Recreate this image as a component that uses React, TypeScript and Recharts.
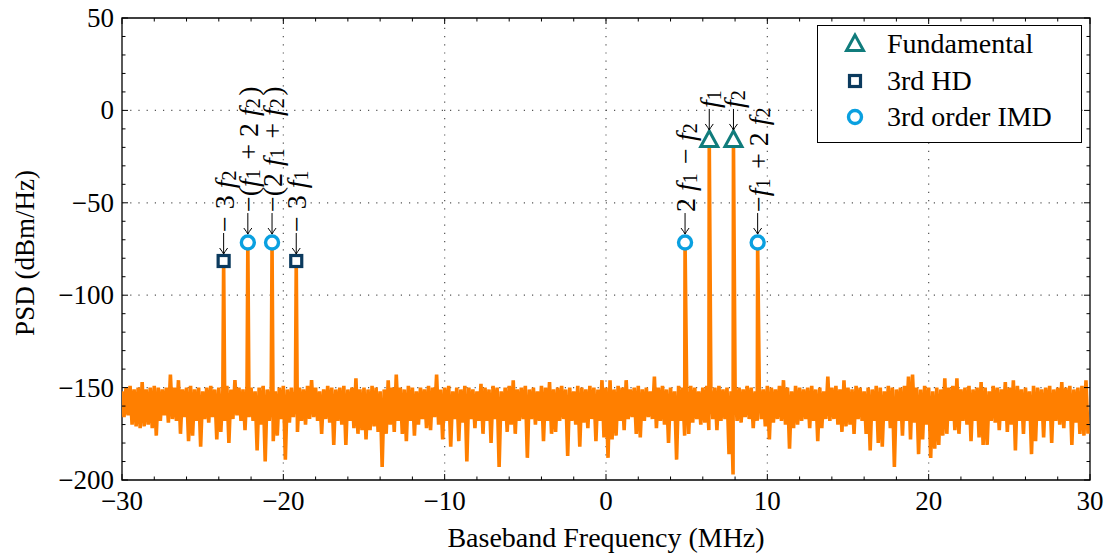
import {
  ComposedChart,
  Line,
  Scatter,
  XAxis,
  YAxis,
  ReferenceLine,
  ReferenceArea,
  Legend,
} from "recharts";

const FONT = '"Times New Roman", serif';
const ORANGE = "#ff7f00";
const TEAL = "#107c7c";
const NAVY = "#0b3a5e";
const SKY = "#0aa0e0";

// noise floor, one top/bottom pair every 0.25 MHz from -30 MHz
const freqStart = -30;
const freqStep = 0.25;

const noiseTop = [
  -152, -150, -149, -151, -150, -147, -151, -150, -149, -150,
  -151, -150, -143, -150, -146, -151, -150, -149, -151, -150,
  -152, -150, -149, -151, -150, -152, -149, -151, -146, -150,
  -151, -149, -150, -152, -150, -149, -151, -150, -152, -150,
  -149, -151, -150, -152, -150, -151, -149, -146, -150, -152,
  -151, -149, -150, -151, -150, -149, -151, -150, -145, -151,
  -150, -151, -149, -150, -152, -151, -146, -150, -143, -150,
  -151, -149, -150, -152, -150, -151, -149, -150, -143, -151,
  -150, -149, -152, -150, -151, -149, -150, -151, -152, -148,
  -150, -151, -149, -150, -152, -150, -149, -146, -151, -150,
  -149, -151, -150, -152, -149, -150, -147, -151, -150, -149,
  -151, -150, -152, -149, -150, -151, -149, -150, -151, -146,
  -150, -146, -151, -149, -150, -146, -151, -150, -149, -151,
  -150, -152, -144, -150, -149, -151, -150, -152, -149, -150,
  -151, -149, -150, -152, -150, -149, -151, -150, -149, -151,
  -150, -152, -149, -150, -151, -149, -150, -152, -150, -151,
  -149, -150, -151, -149, -146, -150, -152, -149, -150, -151,
  -150, -149, -151, -150, -152, -144, -150, -149, -151, -146,
  -150, -151, -149, -150, -152, -150, -151, -149, -150, -152,
  -149, -150, -151, -150, -149, -144, -143, -150, -151, -149,
  -150, -152, -150, -151, -145, -150, -149, -145, -151, -150,
  -149, -151, -150, -147, -150, -152, -149, -150, -151, -147,
  -150, -146, -149, -151, -150, -152, -149, -150, -151, -150,
  -149, -151, -150, -147, -150, -149, -151, -150, -149, -146,
];

const noiseBottom = [
  -166, -165, -170, -171, -172, -171, -170, -172, -176, -168,
  -165, -169, -167, -168, -175, -166, -179, -176, -168, -182,
  -167, -169, -166, -178, -174, -168, -180, -167, -165, -168,
  -173, -166, -168, -184, -170, -190, -168, -179, -176, -167,
  -189, -169, -166, -174, -168, -170, -167, -166, -168, -175,
  -167, -169, -181, -168, -170, -181, -168, -172, -175, -173,
  -178, -173, -171, -174, -193, -175, -170, -174, -168, -175,
  -179, -168, -176, -170, -167, -172, -173, -166, -170, -178,
  -168, -182, -167, -179, -169, -190, -167, -172, -168, -175,
  -168, -180, -167, -193, -168, -174, -170, -175, -168, -167,
  -188, -167, -170, -168, -179, -168, -175, -174, -168, -167,
  -187, -168, -170, -182, -169, -172, -167, -179, -168, -177,
  -188, -178, -176, -168, -173, -167, -166, -175, -177, -168,
  -166, -167, -172, -168, -170, -180, -168, -189, -168, -176,
  -175, -169, -167, -170, -169, -173, -167, -173, -168, -167,
  -186, -197, -168, -169, -166, -167, -172, -168, -167, -171,
  -178, -169, -167, -168, -170, -183, -172, -170, -168, -167,
  -172, -168, -179, -172, -167, -168, -167, -170, -174, -171,
  -170, -175, -167, -168, -175, -184, -168, -180, -182, -168,
  -172, -193, -168, -176, -168, -178, -169, -186, -178, -170,
  -188, -183, -181, -176, -175, -168, -173, -175, -168, -170,
  -179, -168, -177, -181, -181, -168, -169, -173, -168, -174,
  -170, -184, -168, -175, -168, -186, -179, -168, -177, -168,
  -180, -168, -170, -172, -168, -181, -169, -175, -176, -175,
];

// tones
const fundFreqs = [6.4, 7.9];
const fundPsd = [-16, -16];
const fundLabels = ["f_1", "f_2"];

const hdFreqs = [-23.7, -19.2];
const hdPsd = [-81.5, -81.5];
const hdLabels = ["− 3 f_2", "− 3 f_1"];

const imdFreqs = [-22.2, -20.7, 4.9, 9.4];
const imdPsd = [-71.5, -71.5, -71.5, -71.5];
const imdLabels = ["−(f_1 + 2 f_2)", "−(2 f_1 + f_2)", "2 f_1 − f_2", "−f_1 + 2 f_2"];

const legendNames = ["Fundamental", "3rd HD", "3rd order IMD"];
const legendKinds = ["tri", "sq", "circ"];

const xTicks = [
  -30, -28, -26, -24, -22, -20, -18, -16, -14, -12, -10, -8, -6, -4, -2, 0,
  2, 4, 6, 8, 10, 12, 14, 16, 18, 20, 22, 24, 26, 28, 30,
];
const yTicks = [
  -200, -190, -180, -170, -160, -150, -140, -130, -120, -110, -100, -90, -80,
  -70, -60, -50, -40, -30, -20, -10, 0, 10, 20, 30, 40, 50,
];
const xGrid = [-20, -10, 0, 10, 20];
const yGrid = [0, -50, -100, -150];

const PLOT_W = 968;
const PLOT_H = 462;
const ARROW = 21;

const toneRows = [
  ...fundFreqs.map((f, i) => ({ f, psd: fundPsd[i] })),
  ...hdFreqs.map((f, i) => ({ f, psd: hdPsd[i] })),
  ...imdFreqs.map((f, i) => ({ f, psd: imdPsd[i] })),
];

const spectrum = [
  ...noiseTop.flatMap((t, i) => [
    { f: freqStart + i * freqStep, psd: t },
    { f: freqStart + i * freqStep + freqStep / 2, psd: noiseBottom[i] },
  ]),
  ...toneRows,
].sort((a, b) => a.f - b.f);

const fundData = fundFreqs.map((f, i) => ({ f, psd: fundPsd[i], label: fundLabels[i] }));
const hdData = hdFreqs.map((f, i) => ({ f, psd: hdPsd[i], label: hdLabels[i] }));
const imdData = imdFreqs.map((f, i) => ({ f, psd: imdPsd[i], label: imdLabels[i] }));

const fmt = (v: number) => (v < 0 ? `\u2212${Math.abs(v)}` : `${v}`);

function MathText({ text }: { text: string }) {
  const parts = text.split(/(f_\d)/).filter((p) => p !== "");
  return (
    <>
      {parts.map((p, i) =>
        p.startsWith("f_") ? (
          <tspan key={i}>
            <tspan fontStyle="italic">f</tspan>
            <tspan fontSize={20} dy={5}>{p.slice(2)}</tspan>
            <tspan dy={-5}>{"\u200a"}</tspan>
          </tspan>
        ) : (
          <tspan key={i}>{p}</tspan>
        )
      )}
    </>
  );
}

function Glyph({ kind, cx, cy }: { kind: string; cx: number; cy: number }) {
  if (kind === "tri") {
    return (
      <polygon
        points={`${cx},${cy - 9} ${cx - 8.5},${cy + 6.5} ${cx + 8.5},${cy + 6.5}`}
        fill="#fff"
        stroke={TEAL}
        strokeWidth={3}
      />
    );
  }
  if (kind === "sq") {
    return <rect x={cx - 5.5} y={cy - 5.5} width={11} height={11} fill="#fff" stroke={NAVY} strokeWidth={3.2} />;
  }
  return <circle cx={cx} cy={cy} r={6.5} fill="#fff" stroke={SKY} strokeWidth={3.4} />;
}

const markerShape = (kind: string, top: number) => (props: any) => {
  const { cx, cy, payload } = props;
  if (cx == null || cy == null) return <g />;
  const tip = cy - top;
  return (
    <g>
      <Glyph kind={kind} cx={cx} cy={cy} />
      <path
        d={`M${cx},${tip} L${cx},${tip - ARROW} M${cx - 4},${tip - 6} Q${cx - 1},${tip - 2} ${cx},${tip} Q${cx + 1},${tip - 2} ${cx + 4},${tip - 6}`}
        fill="none"
        stroke="#000"
        strokeWidth={1}
      />
      <text
        transform={`translate(${cx} ${tip - ARROW - 1}) rotate(-90)`}
        textAnchor="start"
        dominantBaseline="central"
        fontFamily={FONT}
        fontSize={28}
        fill="#000"
      >
        <MathText text={payload.label} />
      </text>
    </g>
  );
};

const XTick = (props: any) => {
  const { x, y, payload } = props;
  const v = payload.value;
  const major = v % 10 === 0;
  const len = major ? 6 : 3.5;
  return (
    <g>
      <line x1={x} x2={x} y1={y} y2={y - len} stroke="#000" strokeWidth={1} />
      <line x1={x} x2={x} y1={y - PLOT_H} y2={y - PLOT_H + len} stroke="#000" strokeWidth={1} />
      {major && (
        <text x={x} y={y + 30} textAnchor="middle" fontFamily={FONT} fontSize={27} fill="#000">
          {fmt(v)}
        </text>
      )}
    </g>
  );
};

const YTick = (props: any) => {
  const { x, y, payload } = props;
  const v = payload.value;
  const major = v % 50 === 0;
  const len = major ? 6 : 3.5;
  return (
    <g>
      <line x1={x} x2={x + len} y1={y} y2={y} stroke="#000" strokeWidth={1} />
      <line x1={x + PLOT_W} x2={x + PLOT_W - len} y1={y} y2={y} stroke="#000" strokeWidth={1} />
      {major && (
        <text x={x - 8} y={y + 9} textAnchor="end" fontFamily={FONT} fontSize={27} fill="#000">
          {fmt(v)}
        </text>
      )}
    </g>
  );
};

const LegendBox = () => (
  <div
    style={{
      position: "relative",
      width: 265,
      height: 118,
      border: "1.5px solid #000",
      boxSizing: "border-box",
      background: "#fff",
      fontFamily: FONT,
      fontSize: 28,
      color: "#000",
    }}
  >
    {legendNames.map((name, i) => (
      <div
        key={name}
        style={{
          position: "absolute",
          left: 0,
          top: 3 + i * 36.5,
          height: 30,
          display: "flex",
          alignItems: "center",
          whiteSpace: "nowrap",
        }}
      >
        <svg width={69} height={30} style={{ display: "block" }}>
          <Glyph kind={legendKinds[i]} cx={37} cy={15} />
        </svg>
        <span style={{ lineHeight: "30px" }}>{name}</span>
      </div>
    ))}
  </div>
);

export default function App() {
  return (
    <div style={{ position: "absolute", left: 0, top: 0, background: "#fff" }}>
      <ComposedChart
        width={1105}
        height={556}
        data={spectrum}
        margin={{ top: 18, right: 15, bottom: 0, left: 0 }}
      >
        <XAxis
          dataKey="f"
          type="number"
          domain={[-30, 30]}
          ticks={xTicks}
          interval={0}
          height={76}
          tickSize={0}
          tickMargin={0}
          axisLine={false}
          tickLine={false}
          tick={<XTick />}
          allowDataOverflow
          label={{
            value: "Baseband Frequency (MHz)",
            position: "insideBottom",
            offset: 9,
            fontFamily: FONT,
            fontSize: 28,
            fill: "#000",
          }}
        />
        <YAxis
          type="number"
          domain={[-200, 50]}
          ticks={yTicks}
          interval={0}
          width={122}
          tickSize={0}
          tickMargin={0}
          axisLine={false}
          tickLine={false}
          tick={<YTick />}
          allowDataOverflow
          label={{
            content: (p: any) => {
              const vb = p.viewBox || { x: 0, y: 18, width: 122, height: PLOT_H };
              return (
                <text
                  transform={`translate(${vb.x + 34} ${vb.y + vb.height / 2 + 4}) rotate(-90)`}
                  textAnchor="middle"
                  fontFamily={FONT}
                  fontSize={27}
                  fill="#000"
                >
                  PSD (dBm/Hz)
                </text>
              );
            },
          }}
        />
        {xGrid.map((v) => (
          <ReferenceLine key={`gx${v}`} x={v} stroke="#555" strokeWidth={1.2} strokeDasharray="1.2 7" />
        ))}
        {yGrid.map((v) => (
          <ReferenceLine key={`gy${v}`} y={v} stroke="#555" strokeWidth={1.2} strokeDasharray="1.2 7" />
        ))}
        <Line
          type="linear"
          dataKey="psd"
          stroke={ORANGE}
          strokeWidth={3.6}
          dot={false}
          activeDot={false}
          isAnimationActive={false}
          legendType="none"
        />
        <ReferenceArea x1={-30} x2={30} y1={-200} y2={50} fill="none" fillOpacity={0} stroke="#000" strokeWidth={1.3} />
        <Scatter data={hdData} dataKey="psd" shape={markerShape("sq", 7)} isAnimationActive={false} />
        <Scatter data={imdData} dataKey="psd" shape={markerShape("circ", 8.5)} isAnimationActive={false} />
        <Scatter data={fundData} dataKey="psd" shape={markerShape("tri", 10)} isAnimationActive={false} />
        <Legend
          layout="horizontal"
          verticalAlign="middle"
          align="center"
          content={() => <LegendBox />}
          wrapperStyle={{ left: 817, top: 25, width: 265, height: 118 }}
        />
      </ComposedChart>
    </div>
  );
}
